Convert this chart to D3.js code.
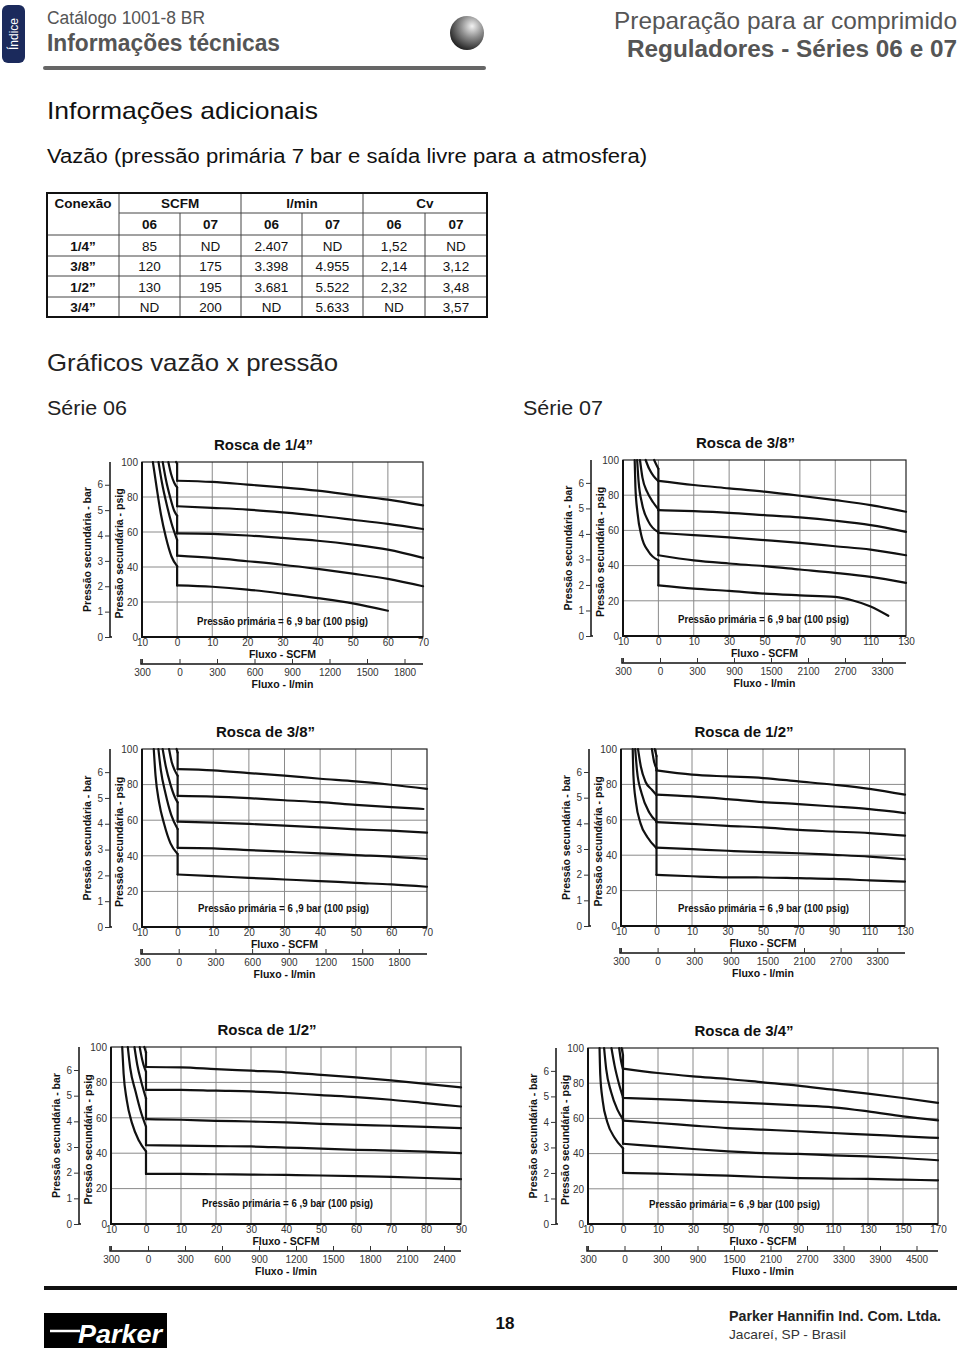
<!DOCTYPE html>
<html>
<head>
<meta charset="utf-8">
<script src="https://cdn.jsdelivr.net/npm/d3@7"></script>
<style>
body { margin: 0; background: #fff; }
svg { display: block; }
text { font-family: "Liberation Sans", Arial, Helvetica, sans-serif; }
</style>
</head>
<body>
<svg id="page" width="960" height="1348"></svg>
<script>
// ---- table: vazão (pressão primária 7 bar)
var connections = ["1/4”", "3/8”", "1/2”", "3/4”"]
var scfm06 = ["85", "120", "130", "ND"]
var scfm07 = ["ND", "175", "195", "200"]
var lmin06 = ["2.407", "3.398", "3.681", "ND"]
var lmin07 = ["ND", "4.955", "5.522", "5.633"]
var cv06 = ["1,52", "2,14", "2,32", "ND"]
var cv07 = ["ND", "3,12", "3,48", "3,57"]

// ---- axis ticks
var psigTicks = [0, 20, 40, 60, 80, 100]
var barTicks = [0, 1, 2, 3, 4, 5, 6]
var scfmTicks06 = [-10, 0, 10, 20, 30, 40, 50, 60, 70]
var scfmTicks07 = [-10, 0, 10, 30, 50, 70, 90, 110, 130]
var scfmTicks06b = [-10, 0, 10, 20, 30, 40, 50, 60, 70, 80, 90]
var scfmTicks07b = [-10, 0, 10, 30, 50, 70, 90, 110, 130, 150, 170]
var lminTicks06 = [-300, 0, 300, 600, 900, 1200, 1500, 1800]
var lminTicks07 = [-300, 0, 300, 900, 1500, 2100, 2700, 3300]
var lminTicks06b = [-300, 0, 300, 600, 900, 1200, 1500, 1800, 2100, 2400]
var lminTicks07b = [-300, 0, 300, 900, 1500, 2100, 2700, 3300, 3900, 4500]

// ---- curves [SCFM, psig]: entry = part left of 0, run = part right of 0
var entry06_14 = [
  [[-6.9,100],[-5.8,85],[-4.6,70],[-3.2,57],[-1.6,46],[0,40.5]],
  [[-5.3,100],[-4.3,88],[-3.0,76],[-1.6,65],[0,55.5]],
  [[-4.1,100],[-3.2,90],[-2.0,80],[-0.8,72],[0,69.3]],
  [[-2.5,100],[-1.7,93],[-0.8,88],[0,85.5]],
  [[-0.3,100],[0,99]]
]
var run06_14 = [
  [[0,29.5],[10,28.7],[20,27.1],[30,24.8],[40,22.2],[50,19.2],[60,15.0]],
  [[0,46.5],[10,45.2],[20,43.3],[30,41.3],[40,38.9],[50,36.2],[60,33.2],[70,29.0]],
  [[0,59.2],[10,58.9],[20,58.0],[30,56.6],[40,55.0],[50,52.8],[60,49.9],[70,45.2]],
  [[0,74.7],[10,73.8],[20,72.8],[30,71.2],[40,69.3],[50,67.0],[60,64.6],[70,61.7]],
  [[0,89.3],[10,88.6],[20,87.1],[30,85.5],[40,83.6],[50,81.1],[60,78.5],[70,75.2]]
]
var entry07_38 = [
  [[-6.7,100],[-6.5,85],[-5.9,70],[-4.8,57],[-2.8,48],[0,43]],
  [[-6.0,100],[-5.6,88],[-4.6,75],[-2.8,65],[0,59]],
  [[-5.2,100],[-4.5,90],[-3.2,82],[-1.5,76],[0,72]],
  [[-3.6,100],[-2.6,95],[-1.4,91],[0,88]],
  [[-1.2,100],[-0.5,97],[0,95]]
]
var run07_38 = [
  [[0,28.8],[10,26.9],[30,25.6],[50,24.1],[70,23.1],[90,22.2],[100,20.2],[110,16.8],[120,11.5]],
  [[0,45.9],[10,43.0],[30,41.2],[50,39.7],[70,37.8],[90,35.9],[110,33.6],[130,30.2]],
  [[0,58.6],[10,57.3],[30,56.0],[50,54.5],[70,52.9],[90,51.0],[110,49.1],[130,45.9]],
  [[0,71.5],[10,70.9],[30,70.0],[50,68.7],[70,67.4],[90,65.5],[110,63.0],[130,59.2]],
  [[0,88.2],[10,85.8],[30,83.9],[50,82.0],[70,79.7],[90,77.2],[110,74.4],[130,70.6]]
]
var entry06_38 = [
  [[-6.7,100],[-6.2,85],[-5.2,70],[-3.8,58],[-2.0,47],[0,41]],
  [[-5.4,100],[-4.7,88],[-3.4,75],[-1.8,63],[0,55]],
  [[-4.2,100],[-3.3,90],[-2.0,80],[-0.8,73],[0,70]],
  [[-2.4,100],[-1.7,93],[-0.8,88],[0,85]],
  [[-0.3,100],[0,98]]
]
var run06_38 = [
  [[0,29.5],[10,28.6],[20,27.6],[30,26.7],[40,25.8],[50,24.8],[60,23.9],[70,22.6]],
  [[0,44.5],[10,44.2],[20,43.2],[30,42.3],[40,41.4],[50,40.4],[60,39.5],[70,38.2]],
  [[0,59.2],[10,58.6],[20,57.9],[30,57.0],[40,56.0],[50,54.9],[60,54.1],[70,53.0]],
  [[0,73.7],[10,73.3],[20,72.4],[30,71.2],[40,70.1],[50,68.6],[60,67.3],[69,66.3]],
  [[0,88.7],[10,88.0],[20,86.5],[30,85.0],[40,83.3],[50,81.8],[60,79.9],[70,77.6]]
]
var entry07_12 = [
  [[-6.7,100],[-6.5,85],[-5.8,70],[-4.5,58],[-2.5,50],[0,44]],
  [[-6.0,100],[-5.5,88],[-4.2,75],[-2.0,64],[0,59]],
  [[-5.2,100],[-4.4,90],[-3.1,81.5],[-1.3,77],[0,74]],
  [[-1.3,100],[-0.7,93],[0,89]],
  [[-0.5,100],[0,96]]
]
var run07_12 = [
  [[0,28.9],[10,28.1],[30,27.5],[50,27.4],[70,27.0],[90,26.6],[110,25.8],[130,25.1]],
  [[0,44.3],[10,43.4],[30,42.5],[50,41.7],[70,41.1],[90,40.2],[110,39.2],[130,37.7]],
  [[0,58.7],[10,57.7],[30,56.6],[50,55.7],[70,54.3],[90,53.4],[110,52.5],[130,51.1]],
  [[0,74.2],[10,73.2],[30,71.7],[50,70.0],[70,68.9],[90,67.5],[110,66.0],[130,63.8]],
  [[0,87.9],[10,85.5],[30,84.5],[50,83.6],[70,81.7],[90,79.8],[110,77.5],[130,74.2]]
]
var entry06_12 = [
  [[-6.8,100],[-6.4,85],[-5.5,70],[-4.0,57],[-2.0,47],[0,41]],
  [[-5.2,100],[-4.5,88],[-3.0,75],[-1.4,63],[0,55]],
  [[-3.3,100],[-2.5,90],[-1.3,80],[0,71]],
  [[-1.8,100],[-1.1,93],[-0.4,88],[0,86]],
  [[-0.5,100],[0,97]]
]
var run06_12 = [
  [[0,28.3],[10,28.3],[20,28.1],[30,27.9],[40,27.7],[50,27.4],[60,27.0],[70,26.6],[80,26.0],[90,25.3]],
  [[0,44.5],[10,44.3],[20,44.0],[30,43.8],[40,43.2],[50,42.6],[60,41.9],[70,41.5],[80,40.9],[90,40.0]],
  [[0,59.2],[10,58.9],[20,58.3],[30,57.9],[40,57.4],[50,56.6],[60,56.0],[70,55.5],[80,54.9],[90,54.2]],
  [[0,75.8],[10,75.8],[20,75.3],[30,74.9],[40,74.0],[50,72.8],[60,71.7],[70,70.2],[80,68.3],[90,66.4]],
  [[0,88.7],[10,88.5],[20,87.5],[30,86.6],[40,85.7],[50,84.3],[60,82.8],[70,81.1],[80,79.2],[90,77.2]]
]
var entry07_34 = [
  [[-6.7,100],[-6.5,85],[-5.8,70],[-4.5,58],[-2.4,49],[0,43]],
  [[-5.4,100],[-4.8,88],[-3.4,75],[-1.6,65],[0,59.5]],
  [[-3.3,100],[-2.4,90],[-1.2,80],[0,72]],
  [[-1.1,100],[-0.5,92],[0,88]],
  [[-0.4,100],[0,96]]
]
var run07_34 = [
  [[0,29.0],[10,28.6],[30,28.0],[50,27.5],[70,26.7],[90,26.1],[110,25.8],[130,25.6],[150,25.2],[170,24.8]],
  [[0,45.6],[10,44.1],[30,42.6],[50,41.3],[70,40.3],[90,39.8],[110,39.0],[130,38.4],[150,37.5],[170,36.2]],
  [[0,58.7],[10,57.4],[30,55.9],[50,54.5],[70,53.6],[90,52.7],[110,51.7],[130,50.8],[150,49.8],[170,48.9]],
  [[0,71.6],[10,71.0],[30,70.1],[50,69.3],[70,68.4],[90,67.4],[110,66.3],[130,64.0],[150,61.2],[170,58.9]],
  [[0,88.3],[10,85.8],[30,83.9],[50,82.4],[70,80.5],[90,78.6],[110,76.3],[130,74.1],[150,71.6],[170,68.8]]
]

var svg = d3.select("#page")
svg.append("rect").attr("width", 960).attr("height", 1348).attr("fill", "#fff")

function txt(x, y, s, size, opt) {
  opt = opt || {}
  var t = svg.append("text").attr("x", x).attr("y", y).text(s)
    .attr("font-size", size)
    .attr("fill", opt.fill || "#111")
    .attr("font-weight", opt.bold ? "bold" : "normal")
    .attr("text-anchor", opt.anchor || "start")
  if (opt.len) t.attr("textLength", opt.len).attr("lengthAdjust", "spacingAndGlyphs")
  return t
}

// ---- page header
svg.append("rect").attr("x", 2).attr("y", 5).attr("width", 23).attr("height", 58)
  .attr("rx", 6).attr("fill", "#1b2a5c")
svg.append("text").attr("transform", "translate(18,34) rotate(-90)")
  .attr("text-anchor", "middle").attr("font-size", 12).attr("fill", "#fff").text("Índice")

txt(47, 24, "Catálogo 1001-8 BR", 18, {fill: "#555", len: 158})
txt(47, 51, "Informações técnicas", 23, {fill: "#555", bold: true, len: 233})
txt(957, 29, "Preparação para ar comprimido", 24, {fill: "#555", anchor: "end", len: 343})
txt(957, 57, "Reguladores - Séries 06 e 07", 23, {fill: "#555", anchor: "end", bold: true, len: 330})

var grad = svg.append("defs").append("radialGradient").attr("id", "globe")
  .attr("cx", "65%").attr("cy", "30%").attr("r", "75%")
grad.append("stop").attr("offset", "0%").attr("stop-color", "#f2f2f2")
grad.append("stop").attr("offset", "45%").attr("stop-color", "#8d8d8d")
grad.append("stop").attr("offset", "100%").attr("stop-color", "#1e1e1e")
svg.append("circle").attr("cx", 467).attr("cy", 33).attr("r", 17).attr("fill", "url(#globe)")
svg.append("line").attr("x1", 45).attr("x2", 484).attr("y1", 68).attr("y2", 68)
  .attr("stroke", "#666").attr("stroke-width", 4).attr("stroke-linecap", "round")

// ---- section headings
txt(47, 119, "Informações adicionais", 24, {len: 271})
txt(47, 163, "Vazão (pressão primária 7 bar e saída livre para a atmosfera)", 20, {len: 600})
txt(47, 371, "Gráficos vazão x pressão", 24, {fill: "#222", len: 291})
txt(47, 415, "Série 06", 20, {fill: "#222", len: 80})
txt(523, 415, "Série 07", 20, {fill: "#222", len: 80})

// ---- table
var colX = [47, 119, 180, 241, 302, 363, 425, 487]
var rowY = [193, 213, 235, 256, 276, 297, 317]
var tg = svg.append("g")
var cols = [connections, scfm06, scfm07, lmin06, lmin07, cv06, cv07]
tg.append("line").attr("x1", colX[1]).attr("x2", colX[7]).attr("y1", rowY[1]).attr("y2", rowY[1])
  .attr("stroke", "#444").attr("stroke-width", 1)
d3.range(2, 6).forEach(function (r) {
  tg.append("line").attr("x1", colX[0]).attr("x2", colX[7]).attr("y1", rowY[r]).attr("y2", rowY[r])
    .attr("stroke", "#444").attr("stroke-width", 1)
})
;[1, 3, 5].forEach(function (c) {
  tg.append("line").attr("x1", colX[c]).attr("x2", colX[c]).attr("y1", rowY[0]).attr("y2", rowY[6])
    .attr("stroke", "#444").attr("stroke-width", 1)
})
;[2, 4, 6].forEach(function (c) {
  tg.append("line").attr("x1", colX[c]).attr("x2", colX[c]).attr("y1", rowY[1]).attr("y2", rowY[6])
    .attr("stroke", "#444").attr("stroke-width", 1)
})
tg.append("rect").attr("x", colX[0]).attr("y", rowY[0]).attr("width", colX[7] - colX[0])
  .attr("height", rowY[6] - rowY[0]).attr("fill", "none").attr("stroke", "#111").attr("stroke-width", 2)

txt((colX[0] + colX[1]) / 2, 208, "Conexão", 13.5, {bold: true, anchor: "middle"})
txt((colX[1] + colX[3]) / 2, 208, "SCFM", 13.5, {bold: true, anchor: "middle"})
txt((colX[3] + colX[5]) / 2, 208, "l/min", 13.5, {bold: true, anchor: "middle"})
txt((colX[5] + colX[7]) / 2, 208, "Cv", 13.5, {bold: true, anchor: "middle"})
;["06", "07", "06", "07", "06", "07"].forEach(function (s, i) {
  txt((colX[i + 1] + colX[i + 2]) / 2, 229, s, 13.5, {bold: true, anchor: "middle"})
})
cols.forEach(function (col, c) {
  col.forEach(function (v, r) {
    txt((colX[c] + colX[c + 1]) / 2, (rowY[r + 2] + rowY[r + 3]) / 2 + 5, v, 13.5,
      {bold: c === 0, anchor: "middle"})
  })
})

// ---- charts
var charts = [
  {title: "Rosca de 1/4”", L: 142, T: 462, W: 281, H: 175, scfm: scfmTicks06, lmin: lminTicks06, step: 37.5, entry: entry06_14, run: run06_14, noteDx: 55, noteDy: 16},
  {title: "Rosca de 3/8”", L: 623, T: 460, W: 283, H: 176, scfm: scfmTicks07, lmin: lminTicks07, step: 37, entry: entry07_38, run: run07_38, noteDx: 55, noteDy: 17},
  {title: "Rosca de 3/8”", L: 142, T: 749, W: 285, H: 178, scfm: scfmTicks06, lmin: lminTicks06, step: 36.7, entry: entry06_38, run: run06_38, noteDx: 56, noteDy: 19},
  {title: "Rosca de 1/2”", L: 621, T: 749, W: 284, H: 177, scfm: scfmTicks07, lmin: lminTicks07, step: 36.6, entry: entry07_12, run: run07_12, noteDx: 57, noteDy: 18},
  {title: "Rosca de 1/2”", L: 111, T: 1047, W: 350, H: 177, scfm: scfmTicks06b, lmin: lminTicks06b, step: 37, entry: entry06_12, run: run06_12, noteDx: 91, noteDy: 21},
  {title: "Rosca de 3/4”", L: 588, T: 1048, W: 350, H: 176, scfm: scfmTicks07b, lmin: lminTicks07b, step: 36.5, entry: entry07_34, run: run07_34, noteDx: 61, noteDy: 20}
]

function drawChart(c) {
  var g = svg.append("g")
  var L = c.L, T = c.T, R = c.L + c.W, B = c.T + c.H
  var x = d3.scaleLinear().domain(c.scfm)
    .range(c.scfm.map(function (d, i) { return L + i * c.W / (c.scfm.length - 1) }))
  var y = d3.scaleLinear().domain([0, 100]).range([B, T])
  var yBar = d3.scaleLinear().domain([0, 100 / 14.5]).range([B, T])
  var xl = d3.scaleLinear().domain(c.lmin)
    .range(c.lmin.map(function (d, i) { return L + i * c.step }))

  // grid
  g.selectAll("line.vg").data(c.scfm.slice(1, -1)).enter().append("line")
    .attr("x1", function (d) { return x(d) }).attr("x2", function (d) { return x(d) })
    .attr("y1", T).attr("y2", B).attr("stroke", "#8a8a8a").attr("stroke-width", 1)
  g.selectAll("line.hg").data(psigTicks.slice(1, -1)).enter().append("line")
    .attr("x1", L).attr("x2", R)
    .attr("y1", function (d) { return y(d) }).attr("y2", function (d) { return y(d) })
    .attr("stroke", "#8a8a8a").attr("stroke-width", 1)
  g.append("rect").attr("x", L).attr("y", T).attr("width", c.W).attr("height", c.H)
    .attr("fill", "none").attr("stroke", "#222").attr("stroke-width", 1.2)
  g.append("path").attr("d", "M" + L + "," + T + "V" + B + "H" + R)
    .attr("fill", "none").attr("stroke", "#111").attr("stroke-width", 2)

  // psig axis
  var ay = g.append("g").attr("transform", "translate(" + L + ",0)")
    .call(d3.axisLeft(y).tickValues(psigTicks).tickSize(0).tickPadding(4))
  ay.select(".domain").remove()

  // bar axis
  var ab = g.append("g").attr("transform", "translate(" + (L - 32) + ",0)")
    .call(d3.axisLeft(yBar).tickValues(barTicks).tickSize(5).tickSizeOuter(0).tickPadding(2)
      .tickFormat(d3.format("d")))
  ab.select(".domain").attr("stroke", "#111").attr("stroke-width", 1.5)
    .attr("d", "M0," + T + "V" + B + "H2")

  // SCFM axis
  var ax = g.append("g").attr("transform", "translate(0," + B + ")")
    .call(d3.axisBottom(x).tickValues(c.scfm).tickSize(0).tickPadding(2)
      .tickFormat(function (d) { return Math.abs(d) }))
  ax.select(".domain").remove()

  // l/min axis
  var al = g.append("g").attr("transform", "translate(0," + (B + 27) + ")")
    .call(d3.axisBottom(xl).tickValues(c.lmin).tickSize(-5).tickSizeOuter(0).tickPadding(5)
      .tickFormat(function (d) { return Math.abs(d) }))
  al.select(".domain").attr("d", "M" + (L - 1) + ",-5V0H" + R).attr("stroke", "#111").attr("stroke-width", 1.5)

  g.selectAll(".tick text").attr("font-size", 10).attr("fill", "#333")
    .attr("font-family", "'Liberation Sans', Arial, sans-serif")
  g.selectAll(".tick line").attr("stroke", "#333")

  // curves
  var line = d3.line().x(function (d) { return x(d[0]) }).y(function (d) { return y(d[1]) })
    .curve(d3.curveMonotoneX)
  var seg = d3.line().x(function (d) { return x(d[0]) }).y(function (d) { return y(d[1]) })
  var cg = g.append("g").attr("fill", "none").attr("stroke", "#111").attr("stroke-width", 2.2)
    .attr("stroke-linejoin", "round").attr("stroke-linecap", "round")
  c.entry.forEach(function (e, i) {
    var r = c.run[i]
    cg.append("path").attr("d", line(e))
    cg.append("path").attr("d", seg([e[e.length - 1], r[0]]))
    cg.append("path").attr("d", line(r))
  })

  // labels
  var cx = (L + R) / 2
  g.append("text").attr("x", cx - 19).attr("y", T - 12).attr("text-anchor", "middle")
    .attr("font-size", 15).attr("font-weight", "bold").attr("fill", "#111").text(c.title)
  g.append("text").attr("x", cx).attr("y", B + 21).attr("text-anchor", "middle")
    .attr("font-size", 10.5).attr("font-weight", "bold").attr("fill", "#111").text("Fluxo - SCFM")
  g.append("text").attr("x", cx).attr("y", B + 51).attr("text-anchor", "middle")
    .attr("font-size", 10.5).attr("font-weight", "bold").attr("fill", "#111").text("Fluxo - l/min")
  g.append("text").attr("x", L + c.noteDx).attr("y", B - c.noteDy + 4)
    .attr("font-size", 10.5).attr("font-weight", "bold").attr("fill", "#111")
    .attr("textLength", 171).attr("lengthAdjust", "spacingAndGlyphs")
    .text("Pressão primária = 6 ,9 bar  (100 psig)")
  var my = (T + B) / 2
  g.append("text").attr("transform", "translate(" + (L - 51) + "," + my + ") rotate(-90)")
    .attr("text-anchor", "middle").attr("font-size", 10.5).attr("font-weight", "bold").attr("fill", "#111")
    .text("Pressão secundária - bar")
  g.append("text").attr("transform", "translate(" + (L - 19) + "," + (my + 4) + ") rotate(-90)")
    .attr("text-anchor", "middle").attr("font-size", 10.5).attr("font-weight", "bold").attr("fill", "#111")
    .text("Pressão secundária - psig")
}
charts.forEach(drawChart)

// ---- footer
svg.append("line").attr("x1", 44).attr("x2", 957).attr("y1", 1288).attr("y2", 1288)
  .attr("stroke", "#111").attr("stroke-width", 4)
svg.append("rect").attr("x", 44).attr("y", 1313).attr("width", 123).attr("height", 40).attr("fill", "#000")
svg.append("line").attr("x1", 50).attr("x2", 80).attr("y1", 1331).attr("y2", 1331)
  .attr("stroke", "#fff").attr("stroke-width", 2.5)
svg.append("text").attr("x", 78).attr("y", 1343).attr("font-size", 26).attr("font-weight", "bold")
  .attr("font-style", "italic").attr("fill", "#fff")
  .attr("textLength", 84).attr("lengthAdjust", "spacingAndGlyphs").text("Parker")
txt(505, 1329, "18", 17, {bold: true, anchor: "middle"})
txt(729, 1321, "Parker Hannifin Ind. Com. Ltda.", 14, {bold: true, fill: "#222", len: 212})
txt(729, 1339, "Jacareí, SP - Brasil", 13, {fill: "#333", len: 117})
</script>
</body>
</html>
